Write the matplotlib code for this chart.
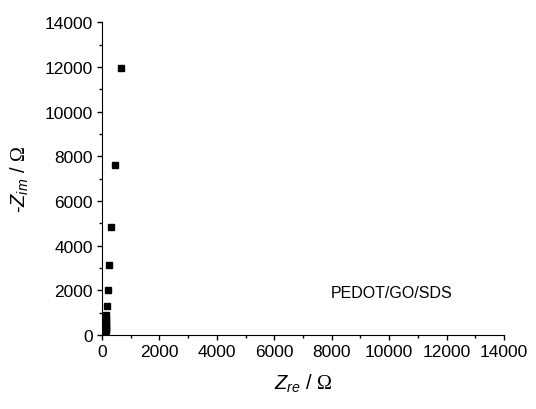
import numpy as np
import matplotlib.pyplot as plt
from matplotlib.ticker import MultipleLocator

plt.rcParams['font.family'] = ['Liberation Sans', 'DejaVu Sans']
plt.rcParams['mathtext.fontset'] = 'custom'
plt.rcParams['mathtext.it'] = 'Liberation Sans:italic'
plt.rcParams['mathtext.rm'] = 'Liberation Serif'

# Nyquist data
z_re = [665, 466, 320, 256, 200, 165, 145, 140, 136, 132, 129, 126, 123, 121, 119, 117, 115]
z_im = [11950, 7600, 4850, 3120, 2010, 1300, 900, 720, 570, 440, 340, 260, 190, 135, 90, 55, 25]

fig = plt.figure(figsize=(5.36, 4.10), dpi=100)
ax = fig.add_axes([0.1903, 0.1805, 0.750, 0.763])

ax.plot(z_re, z_im, linestyle='none', marker='s', color='black', markersize=5)

ax.set_xlim(0, 14000)
ax.set_ylim(0, 14000)
ax.xaxis.set_major_locator(MultipleLocator(2000))
ax.yaxis.set_major_locator(MultipleLocator(2000))
ax.xaxis.set_minor_locator(MultipleLocator(1000))
ax.yaxis.set_minor_locator(MultipleLocator(1000))
ax.tick_params(which='major', direction='out', length=3.5, width=1, labelsize=12.5, pad=3)
ax.tick_params(which='minor', direction='out', length=2.2, width=1)

for s in ['top', 'right']:
    ax.spines[s].set_visible(False)

ax.set_xlabel(r'$Z_{re}$ / $\mathrm{\Omega}$', fontsize=14.5, labelpad=9)
ax.set_ylabel(r'-$Z_{im}$ / $\mathrm{\Omega}$', fontsize=14.5, labelpad=10)

ax.text(10080, 1890, 'PEDOT/GO/SDS', fontsize=11.5, ha='center', va='center')

plt.savefig('out.png', dpi=100)
